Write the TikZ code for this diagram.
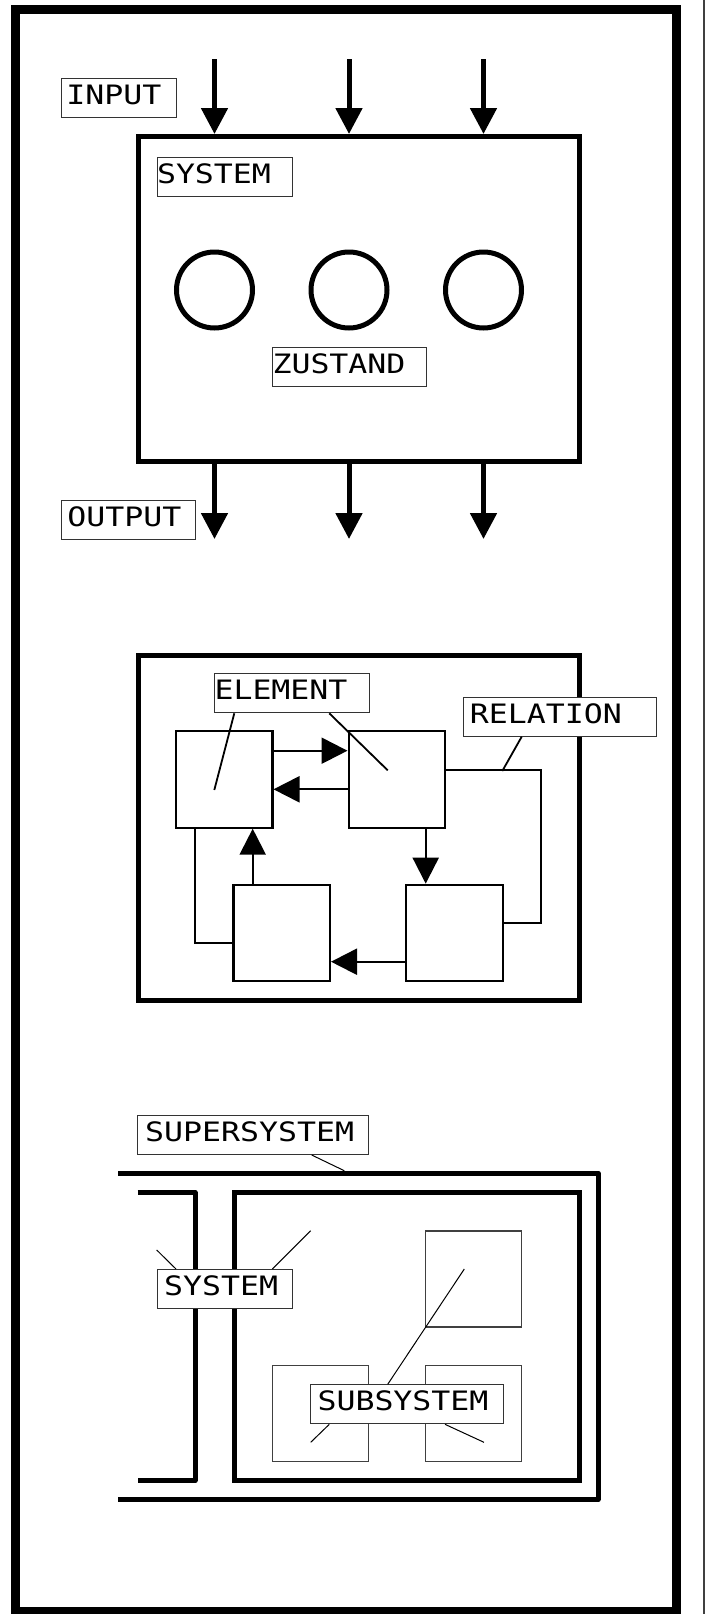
\documentclass[tikz,border=0pt]{standalone}
\usepackage{fontspec}
\newfontfamily\lblfont[FakeStretch=1.182]{DejaVu Sans Mono}
\usetikzlibrary{arrows.meta}
\begin{document}
\begin{tikzpicture}[x=1pt,y=-1pt,
  frame/.style={line width=9pt},
  thickbox/.style={draw, line width=5pt, inner sep=0pt},
  elem/.style={draw, line width=2.2pt, inner sep=0pt, minimum width=96.5pt, minimum height=96.5pt},
  subbox/.style={draw=black!75, line width=1.2pt, inner sep=0pt, minimum width=96pt, minimum height=96pt},
  lbl/.style={draw=black!80, line width=1pt, fill=white, anchor=north west,
    font=\lblfont\fontsize{26.7pt}{32pt}\selectfont, inner ysep=0pt,
    text height=26pt, text depth=13pt, align=left},
  state/.style={draw, circle, line width=5pt, minimum size=76pt, inner sep=0pt},
  bigarrow/.style={line width=5pt, -{Triangle[length=26pt,width=26pt]}},
  smallarrow/.style={line width=2.2pt, -{Triangle[length=26pt,width=26pt]}},
  conn/.style={line width=2.2pt},
  leader/.style={line width=1.8pt},
  thinleader/.style={line width=1pt},
  bracket/.style={line width=5pt, line join=round},
]
\useasboundingbox (0,0) rectangle (706,1614);
% outer frame
\draw[frame] (15.5,9.5) rectangle (676.5,1611.5);
\draw[black!75, line width=1.2pt] (704,0) -- (704,1614);

% ---------- top: system with input/output ----------
\node[thickbox, minimum width=441pt, minimum height=325pt] (sys) at (359,299) {};
\foreach \x/\n in {214.5/1, 349/2, 483.5/3} {
  \node[state] (z\n) at (\x,290) {};
  \coordinate (in\n) at (\x,59);
  \coordinate (out\n) at (\x,539);
  \draw[bigarrow] (in\n) -- (in\n |- sys.north);
  \draw[bigarrow] (out\n |- sys.south) -- (out\n);
}
\node[lbl, text width=105.2pt, inner xsep=5pt] (linput) at (60.8,78) {INPUT};
\node[lbl, text width=135pt, inner xsep=0pt] (lsys) at (156.5,156.5) {SYSTEM};
\node[lbl, text width=154pt, inner xsep=0pt] (lzust) at (272,346.5) {ZUSTAND};
\node[lbl, text width=122.2pt, inner xsep=6pt] (loutput) at (60.8,500) {OUTPUT};

% ---------- middle: elements and relations ----------
\node[thickbox, minimum width=441.4pt, minimum height=345.5pt] (rel) at (359,828) {};
\node[elem] (A) at (224.15,779.35) {};
\node[elem] (B) at (396.85,779.35) {};
\node[elem] (C) at (281.65,933) {};
\node[elem] (D) at (454.35,933) {};
\draw[smallarrow] ([yshift=28.65pt]A.east) -- ([yshift=28.65pt]B.west);
\draw[smallarrow] ([yshift=-9.95pt]B.west) -- ([yshift=-9.95pt]A.east);
\draw[smallarrow] ([xshift=28.85pt]B.south) -- ([xshift=-28.65pt]D.north);
\draw[smallarrow] ([yshift=-28.7pt]D.west) -- ([yshift=-28.7pt]C.east);
\draw[smallarrow] ([xshift=-28.95pt]C.north) -- ([xshift=28.55pt]A.south);
\coordinate (rc) at (541,850);
\draw[conn] ([xshift=-28.85pt]A.south) |- ([yshift=-9.7pt]C.west);
\draw[conn] ([yshift=9.35pt]B.east) -| (rc) |- ([yshift=9.7pt]D.east);
\node[lbl, text width=154.7pt, inner xsep=0pt] (lelem) at (214,673.3) {ELEMENT};
\node[lbl, text width=180.7pt, inner xsep=6pt] (lrel) at (463.3,696.7) {RELATION};
\coordinate (ea) at (214.3,790);
\coordinate (eb) at (387.7,770.3);
\coordinate (ra) at (502.3,771);
\draw[leader] ([xshift=20.3pt]lelem.south west) -- (ea);
\draw[leader] ([xshift=115.3pt]lelem.south west) -- (eb);
\draw[leader] ([xshift=58.4pt]lrel.south west) -- (ra);

% ---------- bottom: supersystem / system / subsystem ----------
\draw[bracket] (118.3,1173) -- (598,1173) -- (598,1499.7) -- (118.3,1499.7);
\draw[bracket] (137.7,1192.3) -- (195,1192.3) -- (195,1480.7) -- (137.7,1480.7);
\node[thickbox, minimum width=345.1pt, minimum height=287.6pt] (sysb) at (406.75,1336.5) {};
\node[subbox] (S1) at (473.7,1279) {};
\node[subbox] (S2) at (320.35,1413.3) {};
\node[subbox] (S3) at (473.7,1413.3) {};
\node[lbl, text width=216.2pt, inner xsep=7.4pt] (lsuper) at (137.3,1115) {SUPERSYSTEM};
\node[lbl, text width=121pt, inner xsep=7pt] (lsysb) at (156.7,1269) {SYSTEM};
\node[lbl, text width=179pt, inner xsep=6.7pt] (lsub) at (310.3,1384.3) {SUBSYSTEM};
\coordinate (sp) at (344.3,1170.7);
\coordinate (sy1) at (156.7,1250);
\coordinate (sy2) at (310.7,1230.7);
\coordinate (su1) at (464.3,1269);
\coordinate (su2) at (310.7,1442.3);
\coordinate (su3) at (484,1442.3);
\draw[thinleader] ([xshift=174.4pt]lsuper.south west) -- (sp);
\draw[thinleader] ([xshift=19.3pt]lsysb.north west) -- (sy1);
\draw[thinleader] ([xshift=115.6pt]lsysb.north west) -- (sy2);
\draw[thinleader] ([xshift=77.4pt]lsub.north west) -- (su1);
\draw[thinleader] ([xshift=19pt]lsub.south west) -- (su2);
\draw[thinleader] ([xshift=134.7pt]lsub.south west) -- (su3);
\end{tikzpicture}
\end{document}
